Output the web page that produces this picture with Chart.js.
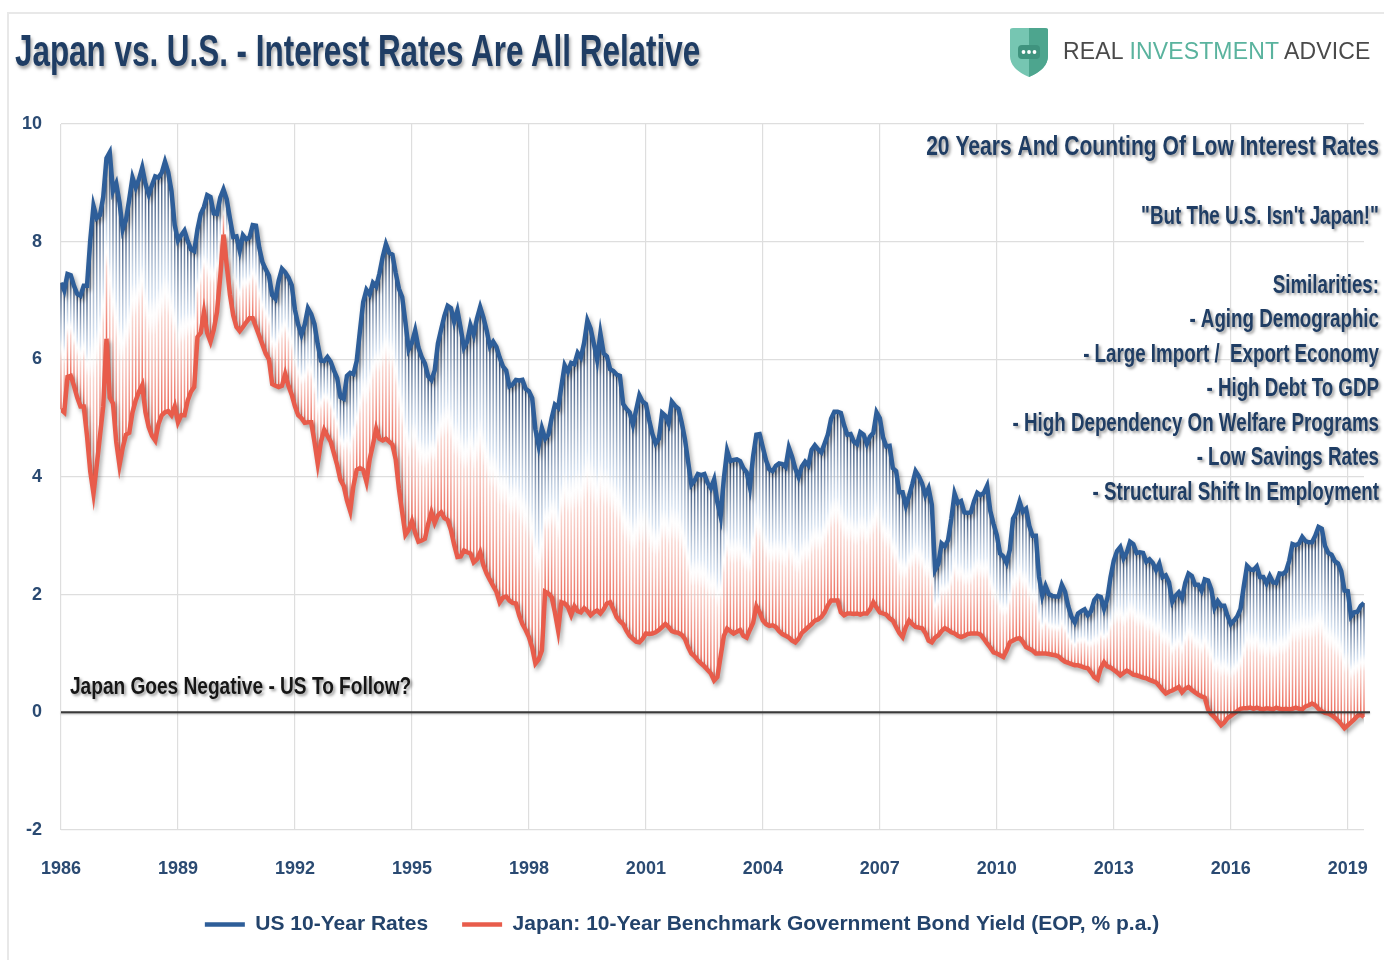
<!DOCTYPE html>
<html>
<head>
<meta charset="utf-8">
<title>Japan vs. U.S. - Interest Rates Are All Relative</title>
<script src="https://cdn.jsdelivr.net/npm/chart.js@4.4.1/dist/chart.umd.min.js"></script>
<style>
  html, body { margin: 0; padding: 0; background: #fff; }
  body { width: 1384px; height: 960px; position: relative; overflow: hidden; }
  #frame { position: absolute; left: 7px; top: 12px; right: 0; bottom: 0;
           border-top: 2px solid #e8e8e8; border-left: 2px solid #e8e8e8; }
  #chart { position: absolute; left: 0; top: 0; }
  #title { position: absolute; left: 15px; top: 26px; white-space: nowrap; line-height: 1;
           font: bold 44px "Liberation Sans", Arial, sans-serif; transform-origin: 0 0;
           color: #1f3d64; text-shadow: 2px 3px 4px rgba(0,0,0,0.35); }
  #logo { position: absolute; left: 1008px; top: 25px; }
  #brand { position: absolute; left: 1063px; top: 38px; white-space: nowrap; line-height: 1;
           font: 23px "Liberation Sans", Arial, sans-serif; color: #4a4a4a; letter-spacing: 0.15px; }
  #brand span { color: #5ab39e; }
</style>
</head>
<body>
<div id="frame"></div>
<canvas id="chart" width="1384" height="960"></canvas>
<div id="title">Japan vs. U.S. - Interest Rates Are All Relative</div>
<svg id="logo" width="42" height="54" viewBox="0 0 42 54">
  <path d="M2 5 Q2 3 5 3 L37 3 Q40 3 40 5 L40 31 Q40 44 21 52 Q2 44 2 31 Z" fill="#76c6b2"/>
  <path d="M21 3 L37 3 Q40 3 40 5 L40 31 Q40 44 21 52 Z" fill="#4da58e"/>
  <rect x="10" y="20" width="22" height="14" rx="4" fill="#3f937e"/>
  <circle cx="15.5" cy="27" r="1.9" fill="#fff"/>
  <circle cx="21" cy="27" r="1.9" fill="#fff"/>
  <circle cx="26.5" cy="27" r="1.9" fill="#fff"/>
</svg>
<div id="brand">REAL <span>INVESTMENT</span> ADVICE</div>

<script>
// monthly points, first point sits on the 1986 gridline
const startYear = 1986;
const tickYears = [1986, 1989, 1992, 1995, 1998, 2001, 2004, 2007, 2010, 2013, 2016, 2019];

const usRates = [
  7.30, 7.17, 7.45, 7.43, 7.25, 7.11,
  7.08, 7.25, 7.25, 8.02, 8.61, 8.40, 8.45, 8.76, 9.42, 9.52, 8.86, 8.99,
  8.67, 8.21, 8.37, 8.72, 9.09, 8.92, 9.06, 9.26, 8.98, 8.80, 8.96, 9.11,
  9.09, 9.17, 9.36, 9.18, 8.86, 8.28, 8.02, 8.11, 8.19, 8.01, 7.87, 7.84,
  8.21, 8.47, 8.59, 8.79, 8.76, 8.48, 8.47, 8.75, 8.89, 8.72, 8.39, 8.08,
  8.09, 7.85, 8.11, 8.04, 8.07, 8.28, 8.27, 7.90, 7.65, 7.53, 7.42, 7.09,
  7.03, 7.34, 7.54, 7.48, 7.39, 7.26, 6.84, 6.59, 6.42, 6.59, 6.87, 6.77,
  6.60, 6.26, 5.98, 5.97, 6.04, 5.96, 5.81, 5.68, 5.36, 5.33, 5.72, 5.77,
  5.75, 5.97, 6.48, 6.97, 7.18, 7.10, 7.30, 7.24, 7.46, 7.74, 7.96, 7.81,
  7.78, 7.47, 7.20, 7.06, 6.63, 6.17, 6.28, 6.49, 6.20, 6.04, 5.93, 5.71,
  5.65, 5.81, 6.27, 6.51, 6.74, 6.91, 6.87, 6.64, 6.83, 6.53, 6.20, 6.30,
  6.58, 6.42, 6.69, 6.89, 6.71, 6.49, 6.22, 6.30, 6.21, 6.03, 5.88, 5.81,
  5.54, 5.57, 5.65, 5.64, 5.65, 5.50, 5.46, 5.34, 4.81, 4.53, 4.83, 4.65,
  4.72, 5.00, 5.23, 5.18, 5.54, 5.90, 5.79, 5.94, 5.92, 6.11, 6.03, 6.28,
  6.66, 6.52, 6.26, 5.99, 6.44, 6.10, 6.05, 5.83, 5.80, 5.74, 5.72, 5.24,
  5.16, 5.10, 4.89, 5.14, 5.39, 5.28, 5.24, 4.97, 4.73, 4.57, 4.65, 5.09,
  5.04, 4.91, 5.28, 5.21, 5.16, 4.93, 4.65, 4.26, 3.87, 3.94, 4.05, 4.03,
  4.05, 3.90, 3.81, 3.96, 3.57, 3.33, 3.98, 4.45, 4.27, 4.29, 4.30, 4.27,
  4.15, 4.08, 3.83, 4.35, 4.72, 4.73, 4.50, 4.28, 4.13, 4.10, 4.19, 4.23,
  4.22, 4.17, 4.50, 4.34, 4.14, 4.00, 4.18, 4.26, 4.20, 4.46, 4.54, 4.47,
  4.42, 4.57, 4.72, 4.99, 5.11, 5.11, 5.09, 4.88, 4.72, 4.73, 4.60, 4.56,
  4.76, 4.72, 4.56, 4.69, 4.75, 5.10, 5.00, 4.67, 4.52, 4.53, 4.15, 4.10,
  3.74, 3.74, 3.51, 3.68, 3.88, 4.10, 4.01, 3.89, 3.69, 3.81, 3.53, 2.42,
  2.52, 2.87, 2.82, 2.93, 3.29, 3.72, 3.56, 3.59, 3.40, 3.39, 3.40, 3.59,
  3.73, 3.69, 3.73, 3.85, 3.42, 3.20, 3.01, 2.70, 2.65, 2.54, 2.76, 3.29,
  3.39, 3.58, 3.41, 3.46, 3.17, 3.00, 3.00, 2.30, 1.98, 2.15, 2.01, 1.98,
  1.97, 1.97, 2.17, 2.05, 1.80, 1.62, 1.53, 1.68, 1.72, 1.75, 1.65, 1.72,
  1.91, 1.98, 1.96, 1.76, 1.93, 2.30, 2.58, 2.74, 2.81, 2.62, 2.72, 2.90,
  2.86, 2.71, 2.72, 2.71, 2.56, 2.60, 2.54, 2.42, 2.53, 2.30, 2.33, 2.21,
  1.88, 1.98, 2.04, 1.94, 2.20, 2.36, 2.32, 2.17, 2.17, 2.07, 2.26, 2.24,
  2.09, 1.78, 1.89, 1.81, 1.81, 1.64, 1.50, 1.56, 1.63, 1.76, 2.14, 2.49,
  2.43, 2.42, 2.48, 2.30, 2.30, 2.19, 2.32, 2.21, 2.20, 2.36, 2.35, 2.40,
  2.58, 2.86, 2.84, 2.87, 2.98, 2.91, 2.89, 2.89, 3.00, 3.15, 3.12, 2.83,
  2.71, 2.68, 2.57, 2.53, 2.40, 2.07, 2.06, 1.63, 1.70, 1.71, 1.81, 1.86
];

const japanRates = [
  5.15, 5.10, 5.70, 5.72, 5.55, 5.35,
  5.20, 5.20, 4.70, 4.10, 3.72, 4.20, 4.70, 5.20, 6.35, 5.35, 5.25, 4.60,
  4.20, 4.50, 4.72, 4.75, 5.10, 5.30, 5.45, 5.56, 5.10, 4.85, 4.70, 4.62,
  4.90, 5.05, 5.10, 5.12, 5.05, 5.20, 4.93, 5.05, 5.05, 5.30, 5.45, 5.53,
  6.38, 6.45, 6.80, 6.45, 6.30, 6.50, 6.80, 7.40, 8.12, 7.60, 7.10, 6.75,
  6.55, 6.48, 6.55, 6.63, 6.70, 6.70, 6.55, 6.40, 6.25, 6.10, 6.00, 5.58,
  5.55, 5.53, 5.55, 5.75, 5.55, 5.40, 5.20, 5.05, 5.00, 4.92, 4.93, 4.93,
  4.60, 4.23, 4.60, 4.80, 4.70, 4.60, 4.40, 4.20, 3.95, 3.85, 3.60, 3.42,
  3.85, 4.12, 4.15, 4.12, 3.92, 4.30, 4.55, 4.82, 4.65, 4.62, 4.65, 4.60,
  4.55, 4.30, 3.80, 3.40, 3.02, 3.10, 3.25, 3.05, 2.90, 2.92, 2.95, 3.20,
  3.40, 3.22, 3.35, 3.40, 3.30, 3.27, 3.10, 2.85, 2.64, 2.65, 2.75, 2.72,
  2.70, 2.55, 2.60, 2.72, 2.50, 2.36, 2.25, 2.15, 2.05, 1.87, 1.95, 1.97,
  1.90, 1.86, 1.85, 1.65, 1.50, 1.40, 1.28, 1.10, 0.83, 0.90, 1.05, 2.05,
  2.02, 1.96, 1.70, 1.39, 1.87, 1.85, 1.79, 1.65, 1.80, 1.72, 1.70, 1.77,
  1.72, 1.65, 1.70, 1.73, 1.68, 1.75, 1.85, 1.87, 1.75, 1.62, 1.55, 1.50,
  1.39, 1.30, 1.25, 1.20, 1.19, 1.25, 1.34, 1.33, 1.34, 1.36, 1.40, 1.45,
  1.50, 1.45, 1.38, 1.36, 1.35, 1.32, 1.25, 1.11, 1.00, 0.95, 0.88, 0.83,
  0.78, 0.72, 0.66, 0.54, 0.60, 0.95, 1.30, 1.42, 1.38, 1.34, 1.37, 1.40,
  1.30, 1.27, 1.40, 1.52, 1.80, 1.70, 1.56, 1.50, 1.47, 1.48, 1.45, 1.38,
  1.33, 1.30, 1.27, 1.22, 1.19, 1.25, 1.35, 1.40, 1.45, 1.50, 1.56, 1.58,
  1.62, 1.70, 1.82, 1.90, 1.90, 1.90, 1.70, 1.65, 1.68, 1.68, 1.67, 1.68,
  1.66, 1.68, 1.68, 1.75, 1.87, 1.78, 1.70, 1.68, 1.66, 1.60, 1.56, 1.45,
  1.35, 1.28, 1.45, 1.56, 1.50, 1.45, 1.44, 1.43, 1.35, 1.22, 1.19, 1.27,
  1.31, 1.38, 1.43, 1.40, 1.36, 1.34, 1.30, 1.28, 1.30, 1.33, 1.34, 1.34,
  1.34, 1.32, 1.25, 1.17, 1.10, 1.02, 1.00, 0.97, 0.94, 1.05, 1.19, 1.22,
  1.25, 1.26, 1.20, 1.11, 1.08, 1.05, 1.00, 1.00, 1.00, 1.00, 0.99, 0.98,
  0.97, 0.95, 0.90, 0.86, 0.84, 0.82, 0.80, 0.80, 0.78, 0.76, 0.75, 0.68,
  0.60, 0.56, 0.75, 0.85, 0.78, 0.76, 0.72, 0.68, 0.63, 0.67, 0.71, 0.68,
  0.64, 0.63, 0.61, 0.59, 0.58, 0.55, 0.53, 0.51, 0.45, 0.38, 0.32, 0.35,
  0.37, 0.40, 0.43, 0.34, 0.40, 0.43, 0.38, 0.34, 0.30, 0.27, 0.25, 0.05,
  -0.03, -0.08, -0.15, -0.22, -0.17, -0.10, -0.06, -0.02, 0.02, 0.06, 0.07, 0.07,
  0.08, 0.06, 0.08, 0.06, 0.05, 0.07, 0.06, 0.05, 0.08, 0.06, 0.05, 0.06,
  0.05, 0.06, 0.08, 0.06, 0.05, 0.10, 0.12, 0.15, 0.12, 0.06, 0.02, -0.01,
  -0.02, -0.05, -0.09, -0.14, -0.20, -0.27, -0.22, -0.17, -0.12, -0.06, -0.04, -0.08
];

const seriesNames = ['US 10-Year Rates', 'Japan: 10-Year Benchmark Government Bond Yield (EOP, % p.a.)'];

const notes = [
  '20 Years And Counting Of Low Interest Rates',
  '',
  '"But The U.S. Isn\'t Japan!"',
  '',
  'Similarities:',
  '- Aging Demographic',
  '- Large Import /  Export Economy',
  '- High Debt To GDP',
  '- High Dependency On Welfare Programs',
  '- Low Savings Rates',
  '- Structural Shift In Employment'
];
const zeroNote = 'Japan Goes Negative - US To Follow?';

const months = usRates.map((_, i) => startYear + i / 12);

const FONT = '"Liberation Sans", Arial, sans-serif';
const NAVY = '#1f3d64';
const BLUE = '#2e5e99';
const RED = '#e85c4b';

// the reference uses a condensed face; squeeze the title to its width
const titleEl = document.getElementById('title');
titleEl.style.transform = 'scaleX(' + (685 / titleEl.offsetWidth) + ')';

// vertical "high-low" lines between the two series, blue fading to red
const dropLines = {
  id: 'dropLines',
  beforeDatasetsDraw(chart) {
    const ctx = chart.ctx;
    const top = chart.getDatasetMeta(0).data;
    const bottom = chart.getDatasetMeta(1).data;
    ctx.save();
    ctx.lineWidth = 1.5;
    top.forEach((p, i) => {
      const q = bottom[i];
      if (!q) return;
      const g = ctx.createLinearGradient(0, p.y, 0, q.y);
      g.addColorStop(0, 'rgba(35,64,108,0.95)');
      g.addColorStop(0.45, 'rgba(200,216,236,0.7)');
      g.addColorStop(0.52, 'rgba(250,246,246,0.3)');
      g.addColorStop(0.6, 'rgba(246,198,190,0.7)');
      g.addColorStop(1, 'rgba(236,92,74,0.95)');
      ctx.strokeStyle = g;
      ctx.beginPath();
      ctx.moveTo(p.x, p.y);
      ctx.lineTo(q.x, q.y);
      ctx.stroke();
    });
    ctx.restore();
  }
};

const lineShadow = {
  id: 'lineShadow',
  beforeDatasetDraw(chart) {
    const ctx = chart.ctx;
    ctx.save();
    ctx.shadowColor = 'rgba(0,0,0,0.35)';
    ctx.shadowBlur = 4;
    ctx.shadowOffsetX = 2;
    ctx.shadowOffsetY = 3;
  },
  afterDatasetDraw(chart) {
    chart.ctx.restore();
  }
};

function squeezedText(ctx, text, x, y, k) {
  ctx.save();
  ctx.translate(x, y);
  ctx.scale(k, 1);
  ctx.fillText(text, 0, 0);
  ctx.restore();
}

const annotations = {
  id: 'annotations',
  afterDatasetsDraw(chart) {
    const ctx = chart.ctx;
    const area = chart.chartArea;
    const y0 = chart.scales.y.getPixelForValue(0);

    ctx.save();
    // zero line
    ctx.strokeStyle = '#3a3a3a';
    ctx.lineWidth = 2;
    ctx.shadowColor = 'rgba(0,0,0,0.3)';
    ctx.shadowBlur = 2;
    ctx.shadowOffsetY = 1;
    ctx.beginPath();
    ctx.moveTo(area.left, y0);
    ctx.lineTo(chart.width - 14, y0);
    ctx.stroke();

    ctx.shadowColor = 'rgba(0,0,0,0.4)';
    ctx.shadowBlur = 3;
    ctx.shadowOffsetX = 2;
    ctx.shadowOffsetY = 2;
    ctx.textBaseline = 'middle';

    ctx.font = 'bold 23px ' + FONT;
    ctx.fillStyle = '#161616';
    ctx.textAlign = 'left';
    squeezedText(ctx, zeroNote, area.left + 9, y0 - 25, 0.83);

    ctx.fillStyle = NAVY;
    ctx.textAlign = 'right';
    notes.forEach((t, i) => {
      if (!t) return;
      ctx.font = (i === 0 ? 'bold 27px ' : 'bold 25px ') + FONT;
      squeezedText(ctx, t, chart.width - 5, area.top + 24 + i * 34.5, i === 0 ? 0.78 : 0.75);
    });
    ctx.restore();
  }
};

new Chart(document.getElementById('chart'), {
  type: 'line',
  data: {
    labels: months,
    datasets: [{
      label: seriesNames[0],
      data: usRates,
      borderColor: BLUE,
      backgroundColor: BLUE,
      borderWidth: 4.5,
      pointRadius: 0,
      fill: false
    }, {
      label: seriesNames[1],
      data: japanRates,
      borderColor: RED,
      backgroundColor: RED,
      borderWidth: 4.5,
      pointRadius: 0,
      fill: false
    }]
  },
  options: {
    responsive: false,
    animation: false,
    events: [],
    layout: { padding: { top: 124, right: 20, bottom: 15, left: 0 } },
    scales: {
      x: {
        type: 'linear',
        min: startYear,
        max: months[months.length - 1],
        afterBuildTicks: (scale) => { scale.ticks = tickYears.map(v => ({ value: v })); },
        afterFit: (scale) => { scale.height = 50; },
        grid: { color: '#dedede', lineWidth: 1.2, drawTicks: true, tickLength: 26, tickColor: 'rgba(0,0,0,0)' },
        border: { display: false },
        ticks: {
          padding: 2,
          maxRotation: 0,
          color: '#2a4a72',
          font: { family: FONT, size: 18, weight: 'bold' },
          callback: (v) => String(v)
        }
      },
      y: {
        min: -2,
        max: 10,
        afterFit: (scale) => { scale.width = 61; },
        grid: { color: '#dedede', lineWidth: 1.2, drawTicks: false },
        border: { display: false },
        ticks: {
          stepSize: 2,
          padding: 19,
          color: '#2a4a72',
          font: { family: FONT, size: 18, weight: 'bold' },
          callback: (v) => String(v)
        }
      }
    },
    plugins: {
      legend: {
        position: 'bottom',
        labels: {
          usePointStyle: true,
          pointStyle: 'line',
          pointStyleWidth: 40,
          padding: 34,
          color: '#23436b',
          font: { family: FONT, size: 21, weight: 'bold' }
        }
      },
      tooltip: { enabled: false }
    }
  },
  plugins: [dropLines, lineShadow, annotations]
});
</script>
</body>
</html>
